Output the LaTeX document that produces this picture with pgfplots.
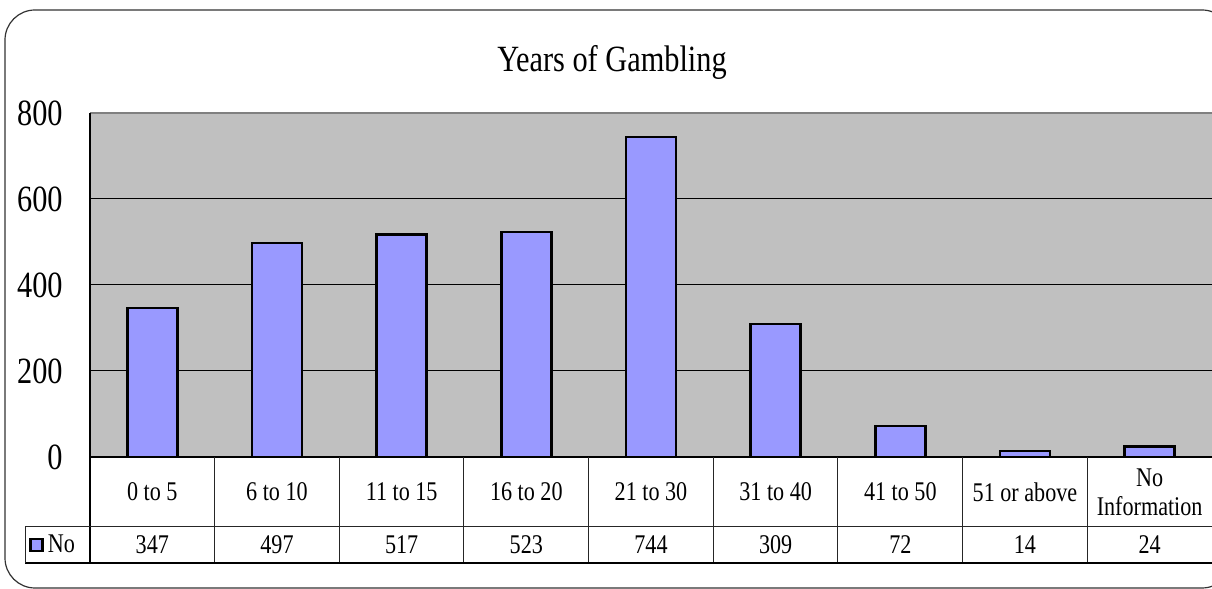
\documentclass[border=0pt]{standalone}
\usepackage{fontspec}
\setmainfont[FakeStretch=0.82]{Liberation Serif}
\usepackage{pgfplots}
\usepackage{pgfplotstable}
\pgfplotsset{compat=1.18}
\definecolor{barblue}{HTML}{9999FF}
\definecolor{plotgray}{HTML}{C0C0C0}
\definecolor{topgray}{HTML}{808080}

\pgfplotstableread{
x v
0 347
1 497
2 517
3 523
4 744
5 309
6 72
7 14
8 24
}\data

\tikzset{valnode/.style={font=\fontsize{13.5}{15}\selectfont}}

\begin{document}
\begin{tikzpicture}[x=1pt,y=1pt]
\useasboundingbox (0,0) rectangle (606,294.5);
\draw[line width=0.6pt, color=black!80, rounded corners=15pt] (2.5,0.5) rectangle (616,289.5);
\node[font=\fontsize{18.5}{20}\selectfont] at (306,263.5) {Years of Gambling};
\begin{axis}[
  at={(45pt,66pt)}, anchor=south west,
  scale only axis, width=561pt, height=172pt,
  xmin=-0.5, xmax=8.5, ymin=0, ymax=800,
  ytick={0,200,400,600,800},
  xtick={0,...,8},
  xticklabels={0 to 5, 6 to 10, 11 to 15, 16 to 20, 21 to 30, 31 to 40, 41 to 50, 51 or above, {No\\Information}},
  xticklabel style={anchor=center, yshift=-17.5pt, align=center, font=\fontsize{13.5}{14.5}\selectfont},
  yticklabel style={font=\fontsize{18.5}{20}\selectfont, inner sep=0pt, xshift=-13.5pt},
  major tick length=0pt,
  ymajorgrids, grid style={black, line width=0.5pt},
  axis background/.style={fill=plotgray},
  axis line style={draw=none},
  clip=false,
  /pgf/number format/assume math mode=true,
  legend style={at={(rel axis cs:-0.0545,-0.2558)}, anchor=west, draw=none, fill=none,
    font=\fontsize{13.5}{15}\selectfont, inner sep=0pt},
  legend image code/.code={\draw[fill=barblue, line width=1.3pt] (0pt,-3pt) rectangle (6pt,3pt);},
]
\addplot[ybar, bar width=25pt, fill=barblue, draw=black, line width=1.2pt] table[x=x, y=v]{\data};
\addlegendentry{No}
% top border and axis lines
\draw[topgray, line width=1pt] (rel axis cs:0,1) -- (rel axis cs:1,1);
\draw[black, line width=0.6pt] (axis cs:-0.5,800) -- (axis cs:-0.5,-246.5);
\draw[black, line width=0.6pt] (axis cs:-0.5,0) -- (axis cs:8.5,0);
% data table lines
\pgfplotsinvokeforeach{0,...,7}{\draw[black!85, line width=0.5pt] (axis cs:#1+0.5,0) -- (axis cs:#1+0.5,-246.5);}
\draw[black!85, line width=0.5pt] (axis cs:-1.021,-162.8) -- (axis cs:8.5,-162.8);
\draw[black, line width=0.6pt] (axis cs:-1.021,-246.5) -- (axis cs:8.5,-246.5);
\draw[black!85, line width=0.5pt] (axis cs:-1.021,-162.8) -- (axis cs:-1.021,-246.5);
% values row
\pgfplotsinvokeforeach{0,...,8}{%
  \pgfplotstablegetelem{#1}{v}\of\data
  \edef\temp{\noexpand\node[valnode] at (axis cs:#1,-204.7) {\pgfplotsretval};}\temp
}
\end{axis}
\end{tikzpicture}
\end{document}
